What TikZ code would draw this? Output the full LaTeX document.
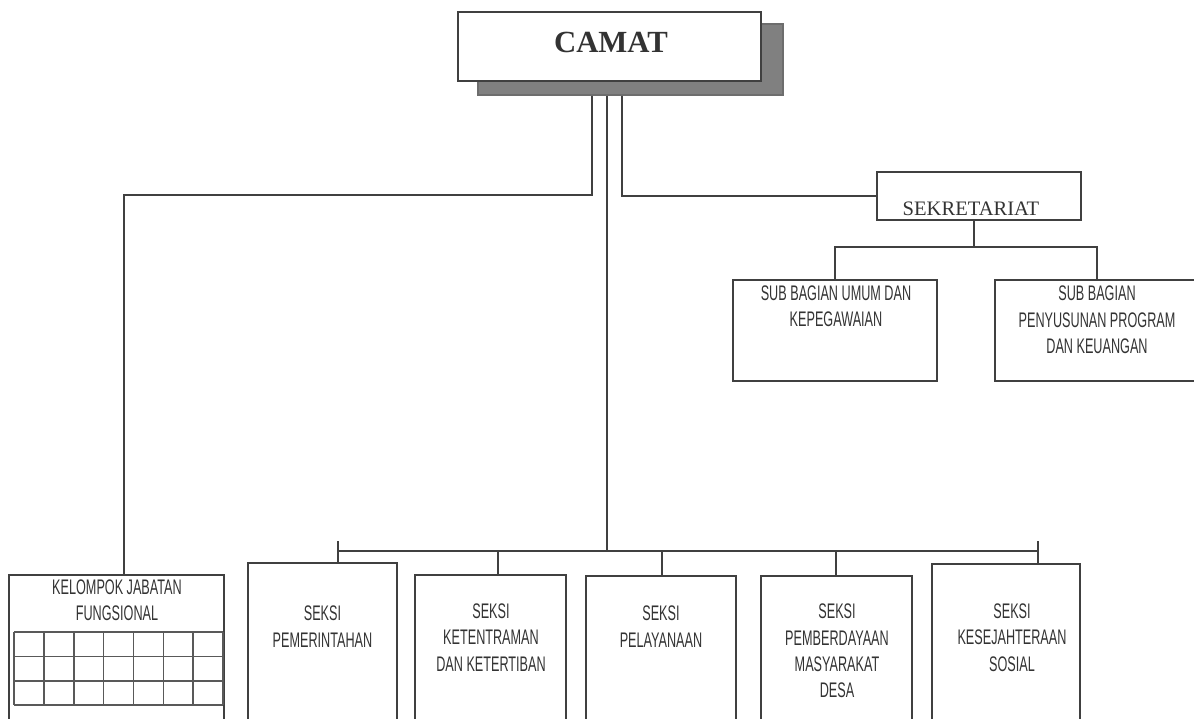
\documentclass[tikz,border=0pt]{standalone}
\usepackage{fontspec}
\setmainfont{Liberation Serif}
\newfontfamily\agency[FakeStretch=0.6]{Liberation Sans}
\usetikzlibrary{fit}
\definecolor{lineclr}{RGB}{64,64,64}
\definecolor{shadowgray}{RGB}{128,128,128}

\begin{document}
\begin{tikzpicture}[x=0.02cm, y=-0.02cm,
  box/.style={draw=lineclr, line width=0.8pt, fill=white, inner sep=0pt},
  dropbox/.style={fill=shadowgray, draw=shadowgray!85!black, line width=0.6pt, inner sep=0pt},
  lbl/.style={align=center, text=black!80, font={\agency\fontsize{12}{15}\selectfont}},
  link/.style={draw=lineclr, line width=0.8pt},
  cell/.style={draw=gray!70!black, line width=0.9pt}]
\useasboundingbox (0,0) rectangle (1194,718);
\clip (0,0) rectangle (1194,718);
% TOP: camat
\node[dropbox, fit={(478,24) (783,95)}] (camatsh) {};
\node[box, fit={(458,12) (761,81)}] (camat) {};
\node[font=\fontsize{17.5}{20}\selectfont\bfseries, text=black!80] (camattxt) at (611,42) {CAMAT};
% RIGHT: sekretariat
\node[box, fit={(877,172) (1081,220)}] (sek) {};
\node[font=\fontsize{11.7}{14}\selectfont, text=black!80] (sektxt) at (971,208.5) {SEKRETARIAT};
\node[box, fit={(733,280) (937,381)}] (sbu) {};
\node[lbl] (sbutxt) at (836,306.5) {SUB BAGIAN UMUM DAN\\KEPEGAWAIAN};
\node[box, fit={(995,280) (1199,381)}] (sbp) {};
\node[lbl] (sbptxt) at (1097,320) {SUB BAGIAN\\PENYUSUNAN PROGRAM\\DAN KEUANGAN};
% BOTTOM: fungsional and seksi
\node[box, fit={(9,575) (224,730)}] (kjf) {};
\node[lbl] (kjftxt) at (117,600) {KELOMPOK JABATAN\\FUNGSIONAL};
\node[box, fit={(248,563) (397,730)}] (pem) {};
\node[lbl] (pemtxt) at (322.5,626.5) {SEKSI\\PEMERINTAHAN};
\node[box, fit={(415,575) (566,730)}] (ket) {};
\node[lbl] (kettxt) at (491,637.5) {SEKSI\\KETENTRAMAN\\DAN KETERTIBAN};
\node[box, fit={(586,576) (736,730)}] (pel) {};
\node[lbl] (peltxt) at (661,626.5) {SEKSI\\PELAYANAAN};
\node[box, fit={(761,576) (912,730)}] (pmd) {};
\node[lbl] (pmdtxt) at (837,651) {SEKSI\\PEMBERDAYAAN\\MASYARAKAT\\DESA};
\node[box, fit={(932,564) (1080,730)}] (kes) {};
\node[lbl] (kestxt) at (1012,637.5) {SEKSI\\KESEJAHTERAAN\\SOSIAL};
% grid in fungsional box
\foreach \c in {0,...,7} {\draw[cell] ({14+\c*29.86},632) -- ({14+\c*29.86},705);}
\foreach \r in {632,656.3,680.7,705} {\draw[cell] (14,\r) -- (223,\r);}
% lines from camat
\coordinate (cl) at (592,195);
\coordinate (cm) at (607,552);
\coordinate (cr) at (622,196);
\coordinate (kl) at (124,0);
\draw[link] (camatsh.south -| cl) -- (cl) -| (kjf.north -| kl);
\draw[link] (camatsh.south -| cm) -- (cm);
\draw[link] (camatsh.south -| cr) |- (sek.west);
% sekretariat branch
\coordinate (sj) at (974,247);
\draw[link] (sek.south -| sj) -- (sj);
\draw[link] (sbu.north) |- (sj) -| (sbp.north);
% seksi bus
\coordinate (bl) at (338,551);
\coordinate (br) at (1038,551);
\draw[link] (bl) -- (br);
\draw[link] (bl) ++(0,-10) -- (pem.north -| bl);
\draw[link] (br) ++(0,-10) -- (kes.north -| br);
\foreach \b/\x in {ket/498, pel/662, pmd/836} {
  \coordinate (t\b) at (\x,551);
  \draw[link] (t\b) -- (\b.north -| t\b);
}
\end{tikzpicture}
\end{document}
